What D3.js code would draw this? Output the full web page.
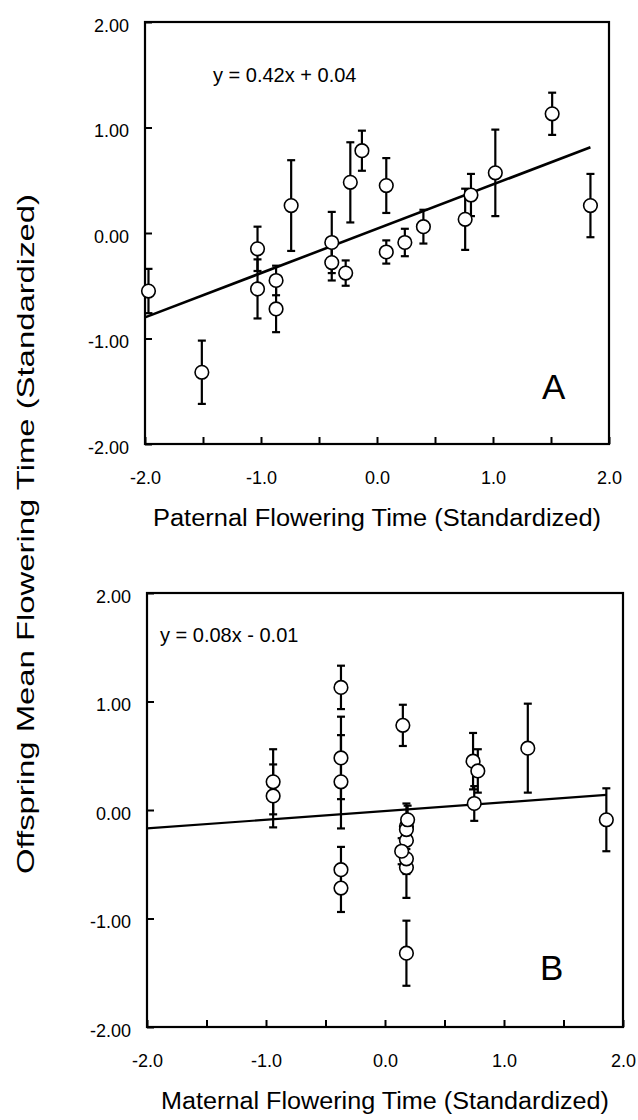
<!DOCTYPE html>
<html lang="en">
	<head>
		<meta charset="utf-8">
		<title>Offspring vs parental flowering time</title>
		<script type="text/javascript" src="https://d3js.org/d3.v7.min.js"></script>
		<style type="text/css">
			body { margin: 0; background: #fff; }
			text { font-family: "Liberation Sans", Arial, sans-serif; fill: #000; }
		</style>
	</head>
	<body>
		<script type="text/javascript">

			//Offspring family means and error bar half-widths (same families in both panels)
			var offspringMean = [-0.55, -1.32, -0.15, -0.53, -0.45, -0.72, 0.26, -0.09, -0.28, -0.38, 0.48,
			                     0.78, 0.45, -0.18, -0.09, 0.06, 0.13, 0.36, 0.57, 1.13, 0.26];
			var offspringErr = [0.21, 0.30, 0.21, 0.28, 0.14, 0.22, 0.43, 0.29, 0.17, 0.12, 0.38,
			                    0.19, 0.26, 0.11, 0.13, 0.16, 0.29, 0.20, 0.41, 0.20, 0.30];

			//Parental flowering times
			var paternalTime = [-1.97, -1.51, -1.03, -1.03, -0.87, -0.87, -0.74, -0.39, -0.39, -0.27, -0.23,
			                    -0.13, 0.08, 0.08, 0.24, 0.40, 0.76, 0.81, 1.02, 1.51, 1.84];
			var maternalTime = [-0.37, 0.18, 0.18, 0.18, 0.18, -0.37, -0.37, 1.86, 0.18, 0.14, -0.37,
			                    0.15, 0.74, 0.18, 0.19, 0.75, -0.94, 0.78, 1.20, -0.37, -0.94];

			//Regression lines
			var slopes = [0.42, 0.08];
			var intercepts = [0.04, -0.01];
			var equations = ["y = 0.42x + 0.04", "y = 0.08x - 0.01"];
			var panelLetters = ["A", "B"];
			var xTitles = ["Paternal Flowering Time (Standardized)", "Maternal Flowering Time (Standardized)"];

			//Tick values
			var xTicks = [-2, -1.5, -1, -0.5, 0, 0.5, 1, 1.5, 2];
			var yTicks = [-2, -1, 0, 1, 2];

			var w = 638;
			var h = 1120;

			var svg = d3.select("body")
				.append("svg")
				.attr("width", w)
				.attr("height", h);

			//Panel boxes and text placement
			var panels = [
				{ x: paternalTime, left: 145, right: 609, top: 22, bottom: 444, eq: [213, 82], letter: [542, 399] },
				{ x: maternalTime, left: 147, right: 623, top: 593, bottom: 1027, eq: [160, 642], letter: [540, 980] }
			];

			panels.forEach(function(p, k) {

				var xScale = d3.scaleLinear().domain([-2, 2]).range([p.left, p.right]);
				var yScale = d3.scaleLinear().domain([-2, 2]).range([p.bottom, p.top]);

				var g = svg.append("g");

				//Axes with inward ticks
				var xAxis = d3.axisBottom(xScale)
					.tickValues(xTicks)
					.tickSize(-7)
					.tickPadding(27)
					.tickFormat(function(d) { return Number.isInteger(d) ? d.toFixed(1) : ""; });

				var yAxis = d3.axisLeft(yScale)
					.tickValues(yTicks)
					.tickSize(-7)
					.tickPadding(16)
					.tickFormat(function(d) { return d.toFixed(2); });

				var gx = g.append("g")
					.attr("transform", "translate(0," + p.bottom + ")")
					.call(xAxis);
				var gy = g.append("g")
					.attr("transform", "translate(" + p.left + ",0)")
					.call(yAxis);

				[gx, gy].forEach(function(a) {
					a.select(".domain").remove();
					a.selectAll(".tick line").attr("stroke", "#000").attr("stroke-width", 2);
					a.selectAll(".tick text")
						.style("font-family", "'Liberation Sans', Arial, sans-serif")
						.attr("font-size", 18)
						.attr("fill", "#000");
				});
				gy.selectAll(".tick text").attr("dy", "0.5em");

				//Frame
				g.append("rect")
					.attr("x", p.left)
					.attr("y", p.top)
					.attr("width", p.right - p.left)
					.attr("height", p.bottom - p.top)
					.attr("fill", "none")
					.attr("stroke", "#000")
					.attr("stroke-width", 2.2);

				//Regression line from x = -2 to the largest parent value
				var xmax = d3.max(p.x);
				g.append("line")
					.attr("x1", xScale(-2))
					.attr("y1", yScale(slopes[k] * -2 + intercepts[k]))
					.attr("x2", xScale(xmax))
					.attr("y2", yScale(slopes[k] * xmax + intercepts[k]))
					.attr("stroke", "#000")
					.attr("stroke-width", k == 0 ? 2.6 : 2.2);

				var data = p.x.map(function(x, i) {
					return { x: x, y: offspringMean[i], e: offspringErr[i] };
				});

				//Error bars
				var bars = g.selectAll("g.bar")
					.data(data)
					.enter()
					.append("g")
					.attr("class", "bar")
					.attr("stroke", "#000")
					.attr("stroke-width", 2.2);

				bars.append("line")
					.attr("x1", function(d) { return xScale(d.x); })
					.attr("x2", function(d) { return xScale(d.x); })
					.attr("y1", function(d) { return yScale(d.y + d.e); })
					.attr("y2", function(d) { return yScale(d.y - d.e); });

				bars.append("line")
					.attr("x1", function(d) { return xScale(d.x) - 4; })
					.attr("x2", function(d) { return xScale(d.x) + 4; })
					.attr("y1", function(d) { return yScale(d.y + d.e); })
					.attr("y2", function(d) { return yScale(d.y + d.e); });

				bars.append("line")
					.attr("x1", function(d) { return xScale(d.x) - 4; })
					.attr("x2", function(d) { return xScale(d.x) + 4; })
					.attr("y1", function(d) { return yScale(d.y - d.e); })
					.attr("y2", function(d) { return yScale(d.y - d.e); });

				//Open circles
				g.selectAll("circle")
					.data(data)
					.enter()
					.append("circle")
					.attr("cx", function(d) { return xScale(d.x); })
					.attr("cy", function(d) { return yScale(d.y); })
					.attr("r", 6.8)
					.attr("fill", "#fff")
					.attr("stroke", "#000")
					.attr("stroke-width", 1.6);

				//Equation and panel letter
				g.append("text")
					.attr("x", p.eq[0])
					.attr("y", p.eq[1])
					.attr("font-size", 20)
					.text(equations[k]);

				g.append("text")
					.attr("x", p.letter[0])
					.attr("y", p.letter[1])
					.attr("font-size", 35)
					.text(panelLetters[k]);

				//X axis title
				g.append("text")
					.attr("x", (p.left + p.right) / 2)
					.attr("y", p.bottom + 82)
					.attr("text-anchor", "middle")
					.attr("font-size", 23)
					.attr("textLength", 448)
					.attr("lengthAdjust", "spacingAndGlyphs")
					.text(xTitles[k]);
			});

			//Shared Y axis title
			svg.append("text")
				.attr("transform", "translate(34,534) rotate(-90)")
				.attr("text-anchor", "middle")
				.attr("font-size", 24)
				.attr("textLength", 680)
				.attr("lengthAdjust", "spacingAndGlyphs")
				.text("Offspring Mean Flowering Time (Standardized)");

		</script>
	</body>
</html>
